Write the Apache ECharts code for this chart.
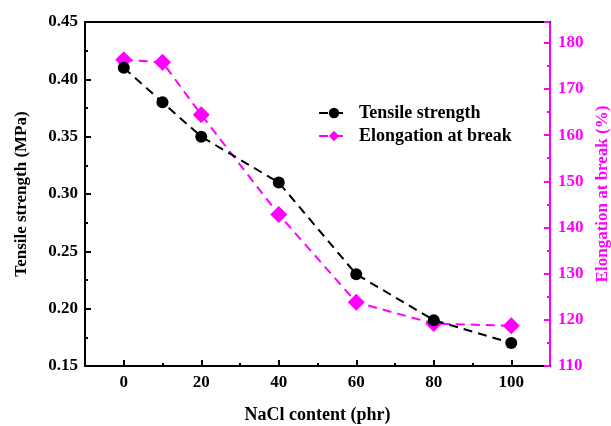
<!DOCTYPE html>
<html>
<head>
<meta charset="utf-8">
<script src="https://cdn.jsdelivr.net/npm/echarts@6/dist/echarts.min.js"></script>
<style>
html,body{margin:0;padding:0;background:#fff;}
#main{width:611px;height:426px;}
</style>
</head>
<body>
<div id="main"></div>
<script>
// NaCl content (phr)
var nacl = [0, 10, 20, 40, 60, 80, 100];
// tensile strength (MPa), left axis
var tensile = [0.41, 0.38, 0.35, 0.31, 0.23, 0.19, 0.17];
// elongation at break (%), right axis
var elongation = [176.3, 175.8, 164.4, 142.8, 123.8, 119.2, 118.7];
var xMajor = [0, 20, 40, 60, 80, 100];
var xMinor = [10, 30, 50, 70, 90];

var font = 'Liberation Serif';
var pink = '#ff00ff';

function pairs(xs, ys) {
	return xs.map(function (x, i) { return [x, ys[i]]; });
}

var myChart = echarts.init(document.getElementById('main'));

var option = {
	backgroundColor: '#fff',
	animation: false,
	grid: {left: 85, right: 61, top: 22, bottom: 60, outerBoundsMode: 'none', containLabel: false},
	legend: {
		orient: 'vertical',
		left: 313,
		top: 99,
		itemWidth: 30,
		itemHeight: 13,
		itemGap: 5,
		textStyle: {fontFamily: font, fontWeight: 'bold', fontSize: 18, color: '#000', padding: [0, 0, 0, 5]},
		data: ['Tensile strength', 'Elongation at break']
	},
	xAxis: [{
		type: 'value',
		min: -10,
		max: 110,
		name: 'NaCl content (phr)',
		nameLocation: 'middle',
		nameGap: 40,
		nameTextStyle: {fontFamily: font, fontWeight: 'bold', fontSize: 18, color: '#000'},
		axisLine: {show: true, onZero: false, lineStyle: {color: '#000', width: 2}},
		axisTick: {show: true, inside: true, length: 6, customValues: xMajor, lineStyle: {color: '#000', width: 2}},
		axisLabel: {customValues: xMajor, margin: 8, fontFamily: font, fontWeight: 'bold', fontSize: 17, color: '#000'},
		splitLine: {show: false}
	}, {
		type: 'value',
		min: -10,
		max: 110,
		position: 'bottom',
		axisLine: {show: false, onZero: false},
		axisTick: {show: true, inside: true, length: 3, customValues: xMinor, lineStyle: {color: '#000', width: 2}},
		axisLabel: {show: false},
		splitLine: {show: false}
	}, {
		type: 'value',
		min: -10,
		max: 110,
		position: 'top',
		axisLine: {show: true, onZero: false, lineStyle: {color: '#000', width: 2}},
		axisTick: {show: false},
		axisLabel: {show: false},
		splitLine: {show: false}
	}],
	yAxis: [{
		type: 'value',
		position: 'left',
		min: 0.15,
		max: 0.45,
		interval: 0.05,
		name: 'Tensile strength (MPa)',
		nameLocation: 'middle',
		nameGap: 55,
		nameTextStyle: {fontFamily: font, fontWeight: 'bold', fontSize: 17, color: '#000'},
		axisLine: {show: true, onZero: false, lineStyle: {color: '#000', width: 2}},
		axisTick: {show: true, inside: true, length: 6, lineStyle: {color: '#000', width: 2}},
		minorTick: {show: true, splitNumber: 2, length: 3, lineStyle: {color: '#000', width: 2}},
		axisLabel: {margin: 7, fontFamily: font, fontWeight: 'bold', fontSize: 17, color: '#000',
			formatter: function (v) { return v.toFixed(2); }},
		splitLine: {show: false}
	}, {
		type: 'value',
		position: 'right',
		min: 110,
		max: 184.5,
		interval: 10,
		name: 'Elongation at break (%)',
		nameLocation: 'middle',
		nameGap: 44,
		nameTextStyle: {fontFamily: font, fontWeight: 'bold', fontSize: 17, color: pink},
		axisLine: {show: true, onZero: false, lineStyle: {color: pink, width: 2}},
		axisTick: {show: true, inside: true, length: 6, lineStyle: {color: pink, width: 2}},
		minorTick: {show: true, splitNumber: 2, length: 3, lineStyle: {color: pink, width: 2}},
		axisLabel: {margin: 8, showMaxLabel: false, fontFamily: font, fontWeight: 'bold', fontSize: 17, color: pink},
		splitLine: {show: false}
	}],
	series: [{
		name: 'Tensile strength',
		type: 'line',
		xAxisIndex: 0,
		yAxisIndex: 0,
		data: pairs(nacl, tensile),
		symbol: 'circle',
		symbolSize: 12,
		itemStyle: {color: '#000'},
		lineStyle: {color: '#000', width: 2, type: [9, 6]},
		z: 3
	}, {
		name: 'Elongation at break',
		type: 'line',
		xAxisIndex: 0,
		yAxisIndex: 1,
		data: pairs(nacl, elongation),
		symbol: 'diamond',
		symbolSize: 17,
		itemStyle: {color: pink},
		lineStyle: {color: pink, width: 2, type: [9, 6]},
		z: 2
	}]
};

myChart.setOption(option);
</script>
</body>
</html>
